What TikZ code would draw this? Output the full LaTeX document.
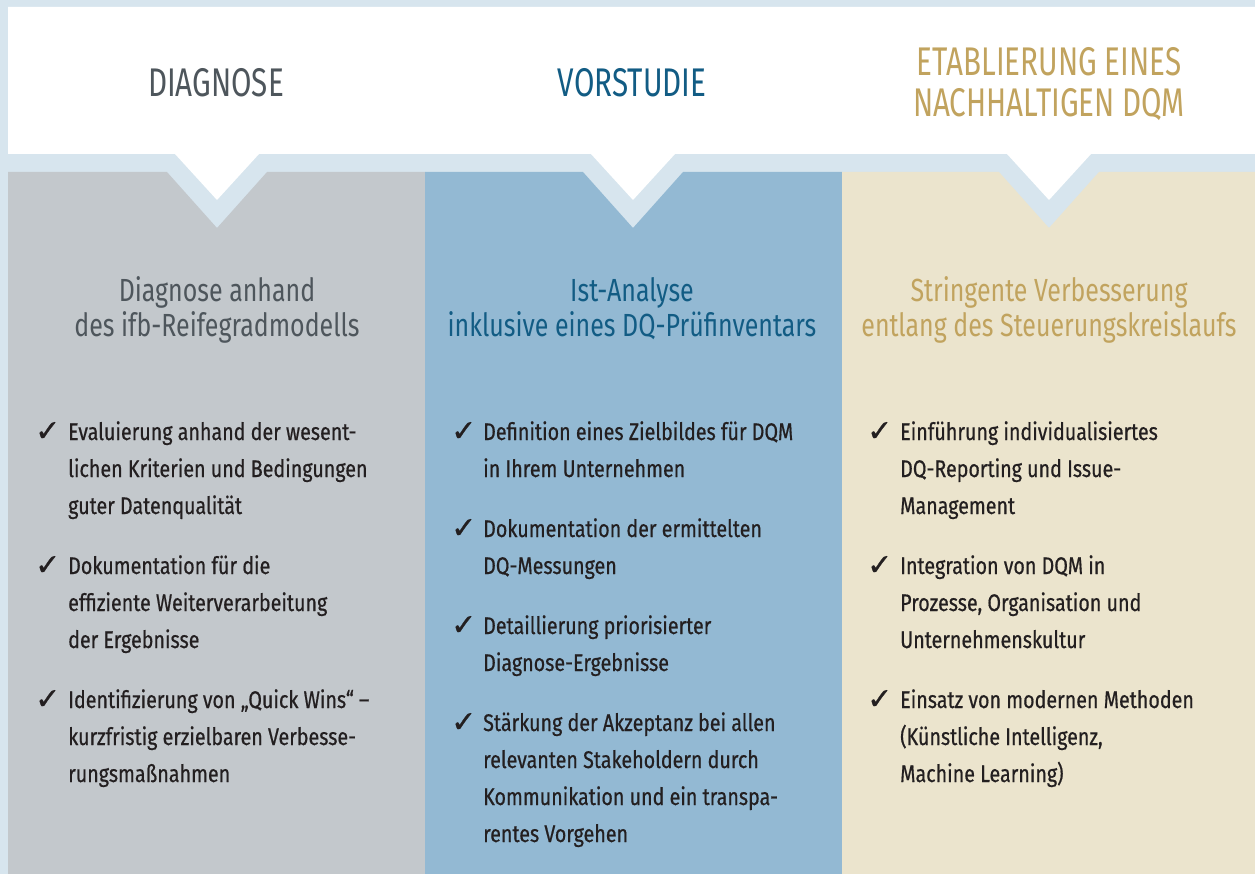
\documentclass[tikz,border=0pt]{standalone}
\usepackage{fontspec}
\setmainfont{Fira Sans}
\newfontfamily\headfont[FakeStretch=0.74]{Fira Sans}
\newfontfamily\subfont[FakeStretch=0.78]{Fira Sans}
\newfontfamily\bodyfont[FakeStretch=0.82,FakeBold=0.6]{Fira Sans}
\newfontfamily\checkfont[FakeBold=0.8]{DejaVu Sans}
\definecolor{bgblue}{HTML}{D7E5EE}
\definecolor{colgray}{HTML}{C3C8CC}
\definecolor{colblue}{HTML}{93B9D3}
\definecolor{colbeige}{HTML}{EBE4CD}
\definecolor{txtgray}{HTML}{4E565C}
\definecolor{txtblue}{HTML}{125C84}
\definecolor{txtgold}{HTML}{C1A35E}
\definecolor{txtbody}{HTML}{231F20}
\tikzset{
  heading/.style={inner sep=0pt, anchor=base, align=center, font=\headfont\fontsize{40}{41}\selectfont},
  subtitle/.style={inner sep=0pt, anchor=base, align=center, font=\subfont\fontsize{32}{35}\selectfont},
  itemtext/.style={inner sep=0pt, anchor=base west, align=left, text=txtbody, font=\bodyfont\fontsize{24}{37}\selectfont},
  checkmark/.style={inner sep=0pt, anchor=base west, text=txtbody, font=\checkfont\fontsize{30}{31}\selectfont},
}
\begin{document}
\begin{tikzpicture}[x=1pt,y=-1pt]
\useasboundingbox (0,0) rectangle (1255,874);
\fill[bgblue] (0,0) rectangle (1255,874);
% white header with chevrons
\fill[white] (8,7) -- (1255,7) -- (1255,154) -- (1091,154) -- (1049,200) -- (1007,154)
  -- (675,154) -- (633,200) -- (591,154) -- (259,154) -- (217,200) -- (175,154) -- (8,154) -- cycle;
% columns
\fill[colgray] (8,172) -- (167,172) -- (217,228) -- (267,172) -- (425,172) -- (425,874) -- (8,874) -- cycle;
\fill[colblue] (425,172) -- (583,172) -- (633,228) -- (683,172) -- (842,172) -- (842,874) -- (425,874) -- cycle;
\fill[colbeige] (842,172) -- (999,172) -- (1049,228) -- (1099,172) -- (1255,172) -- (1255,874) -- (842,874) -- cycle;
% headings (base anchor = last line)
\node[heading, text=txtgray] (h1) at (216,97) {DIAGNOSE};
\node[heading, text=txtblue] (h2) at (632,97) {VORSTUDIE};
\node[heading, text=txtgold] (h3) at (1049,117) {ETABLIERUNG EINES\\NACHHALTIGEN DQM};
% subtitles
\node[subtitle, text=txtgray] (s1) at (217,337) {Diagnose anhand\\des ifb-Reifegradmodells};
\node[subtitle, text=txtblue] (s2) at (632,337) {Ist-Analyse\\inklusive eines DQ-Prüfinventars};
\node[subtitle, text=txtgold] (s3) at (1049,337) {Stringente Verbesserung\\entlang des Steuerungskreislaufs};
% column 1 items
\node[itemtext] (a1) at (68,514) {Evaluierung anhand der wesent-\\lichen Kriterien und Bedingungen\\guter Datenqualität};
\node[itemtext] (a2) at (68,648) {Dokumentation für die\\effiziente Weiterverarbeitung\\der Ergebnisse};
\node[itemtext] (a3) at (68,782) {Identifizierung von „Quick Wins“ –\\kurzfristig erzielbaren Verbesse-\\rungsmaßnahmen};
\node[checkmark] (ca1) at (35,441) {✓};
\node[checkmark] (ca2) at (35,575) {✓};
\node[checkmark] (ca3) at (35,709) {✓};
% column 2 items
\node[itemtext] (b1) at (483,477) {Definition eines Zielbildes für DQM\\in Ihrem Unternehmen};
\node[itemtext] (b2) at (483,574) {Dokumentation der ermittelten\\DQ-Messungen};
\node[itemtext] (b3) at (483,671) {Detaillierung priorisierter\\Diagnose-Ergebnisse};
\node[itemtext] (b4) at (483,842) {Stärkung der Akzeptanz bei allen\\relevanten Stakeholdern durch\\Kommunikation und ein transpa-\\rentes Vorgehen};
\node[checkmark] (cb1) at (451,441) {✓};
\node[checkmark] (cb2) at (451,538) {✓};
\node[checkmark] (cb3) at (451,635) {✓};
\node[checkmark] (cb4) at (451,732) {✓};
% column 3 items
\node[itemtext] (c1) at (900,514) {Einführung individualisiertes\\DQ-Reporting und Issue-\\Management};
\node[itemtext] (c2) at (900,648) {Integration von DQM in\\Prozesse, Organisation und\\Unternehmenskultur};
\node[itemtext] (c3) at (900,782) {Einsatz von modernen Methoden\\(Künstliche Intelligenz,\\Machine Learning)};
\node[checkmark] (cc1) at (867,441) {✓};
\node[checkmark] (cc2) at (867,575) {✓};
\node[checkmark] (cc3) at (867,709) {✓};
\end{tikzpicture}
\end{document}
